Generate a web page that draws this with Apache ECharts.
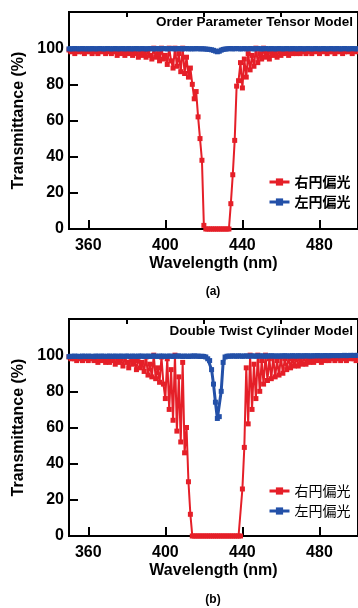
<!DOCTYPE html>
<html>
<head>
<meta charset="utf-8">
<script src="https://cdn.jsdelivr.net/npm/echarts@6/dist/echarts.min.js"></script>
<style>
html,body{margin:0;padding:0;background:#fff;}
#c{width:358px;height:608px;}
</style>
</head>
<body>
<div id="c"></div>
<script>
// Sampling grid (nm): 350 .. 500, 1 nm step
const wlStart = 350;
const wlStep = 1;

// (a) Order Parameter Tensor Model
const redA = [
99,98,99,97,99,98,99,98,97,99,
98,99,97,99,98,97,99,98,99,97,
99,98,97,99,98,96,99,97,98,96,
99,97,98,96,99,97,95,99,96,98,
95,99,96,94,100,95,97,93,100,94,
96,91,100,93,89,100,90,97,87,100,
86,95,84,89,80,72,76,62,50,38,
2,0,0,0,0,0,0,0,0,0,
0,0,0,0,14,30,49,79,82,92,
78,94,84,97,88,96,90,100,92,97,
94,100,95,98,94,99,96,98,95,99,
96,98,97,99,96,98,97,99,97,98,
97,99,98,97,99,98,97,99,98,99,
97,99,98,99,97,98,99,98,97,99,
98,99,97,98,99,98,99,97,99,98,
99];
const blueA = [
99.6,99.7,99.6,99.8,99.7,99.6,99.7,99.8,99.6,99.7,
99.7,99.6,99.8,99.7,99.6,99.7,99.8,99.7,99.6,99.7,
99.8,99.7,99.6,99.7,99.8,99.6,99.7,99.7,99.8,99.6,
99.7,99.8,99.6,99.7,99.7,99.8,99.6,99.7,99.8,99.7,
99.6,99.7,99.8,99.7,99.6,99.7,99.8,99.6,99.7,99.8,
99.7,99.6,99.7,99.8,99.7,99.6,99.7,99.8,99.7,99.6,
99.7,99.8,99.6,99.7,99.7,99.6,99.8,99.7,99.6,99.7,
99.6,99.5,99.4,99.3,99.1,98.8,98.4,98.0,98.3,98.9,
99.3,99.5,99.6,99.7,99.8,99.6,99.7,99.8,99.7,99.6,
99.7,99.8,99.6,99.7,99.8,99.7,99.6,99.7,99.8,99.7,
99.6,99.7,99.8,99.7,99.6,99.8,99.7,99.6,99.7,99.8,
99.7,99.6,99.7,99.8,99.7,99.6,99.8,99.7,99.7,99.6,
99.8,99.7,99.6,99.7,99.8,99.7,99.6,99.7,99.8,99.7,
99.6,99.7,99.8,99.7,99.6,99.7,99.8,99.7,99.6,99.8,
99.7,99.6,99.7,99.8,99.7,99.6,99.7,99.8,99.7,99.6,
99.7];

// (b) Double Twist Cylinder Model
const redB = [
99,98,99,98,97,99,98,97,99,98,
97,99,98,97,99,96,98,97,99,96,
98,96,99,97,95,99,96,98,94,99,
96,93,99,95,97,92,99,93,96,91,
99,89,95,88,100,87,93,85,99,84,
76,98,70,92,64,100,58,88,52,96,
46,60,30,12,0,0,0,0,0,0,
0,0,0,0,0,0,0,0,0,0,
0,0,0,0,0,0,0,0,0,0,
26,49,93,62,100,70,95,76,100,80,
97,84,100,86,98,87,99,88,97,89,
99,90,98,92,99,93,98,94,99,94,
98,95,99,95,98,96,99,96,98,97,
99,96,98,97,99,97,98,99,97,98,
99,97,99,98,97,99,98,99,98,97,
99];
const blueB = [
99.2,99.4,99.3,99.5,99.3,99.4,99.2,99.5,99.4,99.3,
99.5,99.3,99.4,99.2,99.5,99.4,99.3,99.5,99.4,99.3,
99.4,99.5,99.3,99.4,99.5,99.3,99.4,99.5,99.3,99.4,
99.5,99.4,99.3,99.5,99.4,99.3,99.5,99.4,99.5,99.3,
99.4,99.5,99.3,99.4,99.6,99.4,99.3,99.5,99.4,99.5,
99.3,99.4,99.5,99.4,99.3,99.5,99.4,99.6,99.4,99.3,
99.5,99.4,99.3,99.5,99.4,99.6,99.4,99.5,99.3,99.4,
99.3,99.0,98.0,97.0,92.0,84.0,74.0,65.0,66.0,80.0,
96.0,99.0,99.4,99.5,99.4,99.6,99.5,99.4,99.6,99.5,
99.4,99.5,99.6,99.4,99.5,99.6,99.5,99.4,99.6,99.5,
99.6,99.5,99.4,99.6,99.5,99.7,99.5,99.6,99.4,99.6,
99.5,99.6,99.7,99.5,99.6,99.5,99.7,99.6,99.5,99.7,
99.6,99.5,99.7,99.6,99.7,99.5,99.6,99.7,99.6,99.8,
99.6,99.7,99.6,99.8,99.7,99.6,99.8,99.7,99.8,99.7,
99.8,99.7,99.8,99.9,99.7,99.8,99.9,99.8,99.9,99.8,
99.9];

const xMajorTicks = [360, 400, 440, 480];
const xMinorTicks = [380, 420, 460];
const seriesNames = ['右円偏光', '左円偏光'];
const panelTitles = ['Order Parameter Tensor Model', 'Double Twist Cylinder Model'];
const captions = ['(a)', '(b)'];

function pairs(vals) {
  return vals.map((v, i) => [wlStart + i * wlStep, v]);
}

const RED = '#e51f28';
const BLUE = '#2350a8';
const FONT = 'Liberation Sans';

const gridTops = [12, 319];
const gridH = 217;

function xMain(gi) {
  return {
    type: 'value', gridIndex: gi, min: 350, max: 500,
    name: 'Wavelength (nm)', nameLocation: 'middle', nameGap: 27,
    nameTextStyle: {fontFamily: FONT, fontWeight: 'bold', fontSize: 16, color: '#000'},
    axisLine: {show: true, lineStyle: {color: '#000', width: 2}},
    axisTick: {show: true, inside: true, length: 9, lineStyle: {color: '#000', width: 2}, customValues: xMajorTicks},
    axisLabel: {show: true, margin: 9, fontFamily: FONT, fontWeight: 'bold', fontSize: 16, color: '#000', customValues: xMajorTicks},
    splitLine: {show: false}
  };
}
function xMinor(gi) {
  return {
    type: 'value', gridIndex: gi, min: 350, max: 500,
    axisLine: {show: false},
    axisTick: {show: true, inside: true, length: 5, lineStyle: {color: '#000', width: 2}, customValues: xMinorTicks},
    axisLabel: {show: false},
    splitLine: {show: false}
  };
}
function yMain(gi) {
  return {
    type: 'value', gridIndex: gi, min: 0, max: 120, interval: 20,
    name: 'Transmittance (%)', nameLocation: 'middle', nameGap: 42,
    nameTextStyle: {fontFamily: FONT, fontWeight: 'bold', fontSize: 16, color: '#000'},
    axisLine: {show: true, lineStyle: {color: '#000', width: 2}},
    axisTick: {show: true, inside: true, length: 9, lineStyle: {color: '#000', width: 2}},
    axisLabel: {margin: 5, fontFamily: FONT, fontWeight: 'bold', fontSize: 16, color: '#000',
      formatter: v => (v > 100 ? '' : String(v))},
    splitLine: {show: false}
  };
}
function line(name, vals, color, xi, yi, z, lw, sz) {
  return {
    type: 'line', name: name, data: pairs(vals), xAxisIndex: xi, yAxisIndex: yi,
    symbol: 'rect', symbolSize: sz, showSymbol: true, z: z,
    lineStyle: {color: color, width: lw},
    itemStyle: {color: color},
    emphasis: {disabled: true}
  };
}
function legend(top, weight) {
  return {data: seriesNames, left: 268, top: top, orient: 'vertical', itemGap: 6, itemWidth: 20, itemHeight: 9, padding: 0,
    selectedMode: false, lineStyle: {width: 3},
    textStyle: {fontFamily: 'Noto Sans CJK JP', fontWeight: weight, fontSize: 14, color: '#000'}};
}

const chart = echarts.init(document.getElementById('c'), null, {renderer: 'canvas'});
chart.setOption({
  animation: false,
  backgroundColor: '#fff',
  grid: gridTops.map(t => ({left: 69, right: -2, top: t, height: gridH, show: true, borderColor: '#000', borderWidth: 2, backgroundColor: 'transparent'})),
  xAxis: [xMain(0), xMinor(0), xMain(1), xMinor(1)],
  yAxis: [yMain(0), yMain(1)],
  title: [
    {text: panelTitles[0], right: 5, top: 15, textStyle: {fontFamily: FONT, fontWeight: 'bold', fontSize: 13.5, color: '#000'}, padding: 0},
    {text: panelTitles[1], right: 5, top: 324, textStyle: {fontFamily: FONT, fontWeight: 'bold', fontSize: 13.5, color: '#000'}, padding: 0}
  ],
  legend: [legend(175, 'bold'), legend(484, 'normal')],
  graphic: [
    {type: 'text', x: 213, y: 292, style: {text: captions[0], align: 'center', verticalAlign: 'middle', textAlign: 'center', textVerticalAlign: 'middle', font: 'bold 12px "Liberation Sans"', fill: '#000'}},
    {type: 'text', x: 213, y: 600, style: {text: captions[1], align: 'center', verticalAlign: 'middle', textAlign: 'center', textVerticalAlign: 'middle', font: 'bold 12px "Liberation Sans"', fill: '#000'}}
  ],
  series: [
    line(seriesNames[0], redA, RED, 0, 0, 2, 2, 5),
    line(seriesNames[1], blueA, BLUE, 0, 0, 3, 3, 5),
    line(seriesNames[0], redB, RED, 2, 1, 2, 2, 5),
    line(seriesNames[1], blueB, BLUE, 2, 1, 3, 3, 5)
  ]
});
</script>
</body>
</html>
